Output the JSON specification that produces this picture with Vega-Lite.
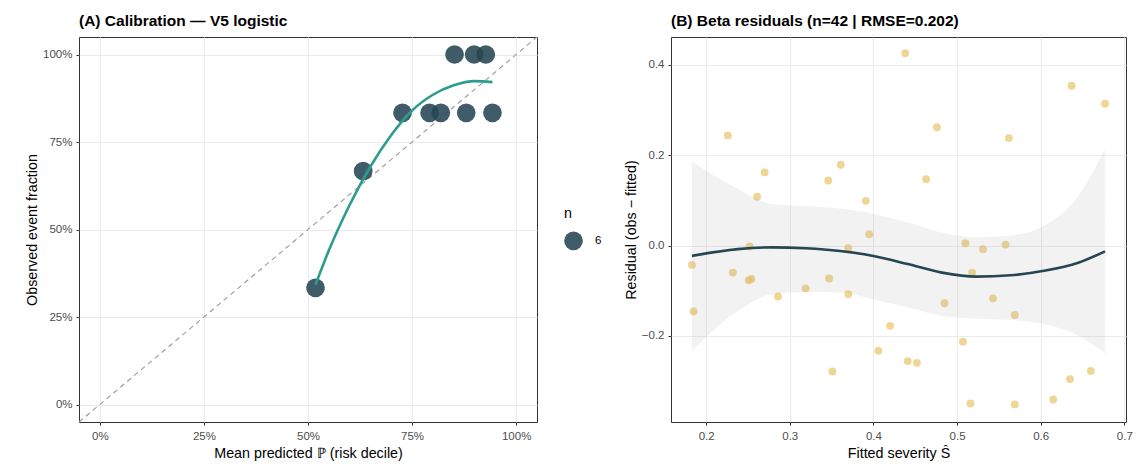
{
  "$schema": "https://vega.github.io/schema/vega-lite/v6.json",
  "background": "white",
  "padding": {"left": 25, "top": 13, "right": 0, "bottom": 0},
  "spacing": 85,
  "config": {
    "font": "Liberation Sans",
    "view": {"stroke": "#333333", "strokeWidth": 1},
    "axis": {
      "domain": false,
      "grid": true,
      "gridColor": "#ebebeb",
      "gridWidth": 1,
      "tickColor": "#333333",
      "tickSize": 3,
      "labelColor": "#4d4d4d",
      "labelFontSize": 11.5,
      "labelFont": "Liberation Sans",
      "titleFont": "Liberation Sans",
      "titleFontSize": 14.3,
      "titleFontWeight": "normal",
      "titleColor": "#000000"
    },
    "axisX": {"labelPadding": 5, "titlePadding": 5},
    "axisY": {"labelPadding": 4, "titlePadding": 3},
    "title": {"font": "Liberation Sans", "fontSize": 15.5, "fontWeight": "bold", "anchor": "start", "frame": "group", "offset": 8, "color": "#000000"}
  },
  "datasets": {
    "calib": [
      {"pred": 0.518, "obs": 0.3333, "n": 6},
      {"pred": 0.6325, "obs": 0.6667, "n": 6},
      {"pred": 0.727, "obs": 0.8333, "n": 6},
      {"pred": 0.792, "obs": 0.8333, "n": 6},
      {"pred": 0.819, "obs": 0.8333, "n": 6},
      {"pred": 0.880, "obs": 0.8333, "n": 6},
      {"pred": 0.943, "obs": 0.8333, "n": 6},
      {"pred": 0.852, "obs": 1.0, "n": 6},
      {"pred": 0.899, "obs": 1.0, "n": 6},
      {"pred": 0.927, "obs": 1.0, "n": 6}
    ],
    "calibSmooth": [
      {"pred": 0.518, "obs": 0.342},
      {"pred": 0.55, "obs": 0.44},
      {"pred": 0.60, "obs": 0.57},
      {"pred": 0.65, "obs": 0.68},
      {"pred": 0.70, "obs": 0.77},
      {"pred": 0.75, "obs": 0.84},
      {"pred": 0.80, "obs": 0.885},
      {"pred": 0.85, "obs": 0.912},
      {"pred": 0.90, "obs": 0.924},
      {"pred": 0.943, "obs": 0.921}
    ],
    "diag": [
      {"pred": -0.05, "obs": -0.05},
      {"pred": 1.05, "obs": 1.05}
    ],
    "resid": [
      {"fit": 0.183, "res": -0.043},
      {"fit": 0.185, "res": -0.146},
      {"fit": 0.226, "res": 0.244},
      {"fit": 0.232, "res": -0.060},
      {"fit": 0.251, "res": -0.077},
      {"fit": 0.254, "res": -0.074},
      {"fit": 0.252, "res": -0.002},
      {"fit": 0.261, "res": 0.108},
      {"fit": 0.270, "res": 0.162},
      {"fit": 0.286, "res": -0.113},
      {"fit": 0.319, "res": -0.095},
      {"fit": 0.346, "res": 0.144},
      {"fit": 0.347, "res": -0.073},
      {"fit": 0.351, "res": -0.279},
      {"fit": 0.361, "res": 0.179},
      {"fit": 0.370, "res": -0.006},
      {"fit": 0.370, "res": -0.108},
      {"fit": 0.391, "res": 0.099},
      {"fit": 0.395, "res": 0.025},
      {"fit": 0.406, "res": -0.233},
      {"fit": 0.420, "res": -0.178},
      {"fit": 0.438, "res": 0.426},
      {"fit": 0.441, "res": -0.256},
      {"fit": 0.452, "res": -0.260},
      {"fit": 0.463, "res": 0.147},
      {"fit": 0.476, "res": 0.262},
      {"fit": 0.485, "res": -0.128},
      {"fit": 0.507, "res": -0.213},
      {"fit": 0.510, "res": 0.005},
      {"fit": 0.516, "res": -0.350},
      {"fit": 0.518, "res": -0.060},
      {"fit": 0.531, "res": -0.008},
      {"fit": 0.543, "res": -0.117},
      {"fit": 0.558, "res": 0.002},
      {"fit": 0.562, "res": 0.238},
      {"fit": 0.569, "res": -0.154},
      {"fit": 0.569, "res": -0.352},
      {"fit": 0.615, "res": -0.341},
      {"fit": 0.635, "res": -0.296},
      {"fit": 0.637, "res": 0.354},
      {"fit": 0.660, "res": -0.278},
      {"fit": 0.677, "res": 0.314}
    ],
    "residSmooth": [
      {"fit": 0.183, "res": -0.023, "lo": -0.233, "hi": 0.186},
      {"fit": 0.238, "res": -0.008, "lo": -0.145, "hi": 0.125},
      {"fit": 0.279, "res": -0.004, "lo": -0.108, "hi": 0.092},
      {"fit": 0.319, "res": -0.006, "lo": -0.103, "hi": 0.087},
      {"fit": 0.360, "res": -0.012, "lo": -0.104, "hi": 0.082},
      {"fit": 0.400, "res": -0.023, "lo": -0.119, "hi": 0.070},
      {"fit": 0.441, "res": -0.041, "lo": -0.137, "hi": 0.051},
      {"fit": 0.482, "res": -0.060, "lo": -0.156, "hi": 0.029},
      {"fit": 0.523, "res": -0.069, "lo": -0.162, "hi": 0.018},
      {"fit": 0.564, "res": -0.066, "lo": -0.165, "hi": 0.022},
      {"fit": 0.604, "res": -0.056, "lo": -0.174, "hi": 0.044},
      {"fit": 0.645, "res": -0.038, "lo": -0.200, "hi": 0.110},
      {"fit": 0.677, "res": -0.013, "lo": -0.239, "hi": 0.214}
    ]
  },
  "hconcat": [
    {
      "width": 458,
      "height": 385,
      "title": {"text": "(A) Calibration — V5 logistic"},
      "layer": [
        {
          "data": {"name": "diag"},
          "mark": {"type": "line", "color": "#999999", "strokeDash": [5, 4], "strokeWidth": 1.1, "clip": true},
          "encoding": {
            "x": {"field": "pred", "type": "quantitative"},
            "y": {"field": "obs", "type": "quantitative"}
          }
        },
        {
          "data": {"name": "calib"},
          "mark": {"type": "circle", "color": "#264653", "opacity": 0.88},
          "encoding": {
            "x": {
              "field": "pred", "type": "quantitative",
              "scale": {"domain": [-0.05, 1.05], "nice": false, "zero": false},
              "axis": {"values": [0, 0.25, 0.5, 0.75, 1], "format": ".0%", "title": "Mean predicted ℙ (risk decile)"}
            },
            "y": {
              "field": "obs", "type": "quantitative",
              "scale": {"domain": [-0.05, 1.05], "nice": false, "zero": false},
              "axis": {"values": [0, 0.25, 0.5, 0.75, 1], "format": ".0%", "title": "Observed event fraction"}
            },
            "size": {
              "field": "n", "type": "quantitative",
              "scale": {"domain": [0, 6], "range": [0, 350], "zero": true},
              "legend": {
                "title": "n",
                "values": [6],
                "orient": "none",
                "legendX": 485,
                "legendY": 170,
                "titleFontSize": 14.3,
                "titleFontWeight": "normal",
                "titleColor": "#000000",
                "labelFontSize": 11.5,
                "labelColor": "#000000",
                "symbolFillColor": "#264653",
                "symbolStrokeColor": "#264653",
                "symbolStrokeWidth": 0,
                "symbolOpacity": 0.88,
                "symbolType": "circle",
                "titlePadding": 10,
                "labelOffset": 12
              }
            }
          }
        },
        {
          "data": {"name": "calibSmooth"},
          "mark": {"type": "line", "color": "#2a9d8f", "strokeWidth": 2.6, "interpolate": "monotone"},
          "encoding": {
            "x": {"field": "pred", "type": "quantitative"},
            "y": {"field": "obs", "type": "quantitative"}
          }
        }
      ]
    },
    {
      "width": 455,
      "height": 385,
      "title": {"text": "(B) Beta residuals (n=42 | RMSE=0.202)"},
      "layer": [
        {
          "data": {"name": "resid"},
          "mark": {"type": "circle", "color": "#e9c46a", "opacity": 0.7, "size": 62},
          "encoding": {
            "x": {
              "field": "fit", "type": "quantitative",
              "scale": {"domain": [0.158, 0.702], "nice": false, "zero": false},
              "axis": {"values": [0.2, 0.3, 0.4, 0.5, 0.6, 0.7], "format": ".1f", "title": "Fitted severity Ŝ"}
            },
            "y": {
              "field": "res", "type": "quantitative",
              "scale": {"domain": [-0.391, 0.462], "nice": false, "zero": false},
              "axis": {"values": [-0.2, 0, 0.2, 0.4], "format": ".1f", "title": "Residual (obs − fitted)"}
            }
          }
        },
        {
          "data": {"name": "residSmooth"},
          "mark": {"type": "area", "color": "#999999", "opacity": 0.13, "interpolate": "monotone"},
          "encoding": {
            "x": {"field": "fit", "type": "quantitative"},
            "y": {"field": "lo", "type": "quantitative"},
            "y2": {"field": "hi"}
          }
        },
        {
          "mark": {"type": "rule", "color": "#999999", "strokeDash": [6, 4], "strokeWidth": 1.2},
          "encoding": {"y": {"datum": 0}}
        },
        {
          "data": {"name": "residSmooth"},
          "mark": {"type": "line", "color": "#264653", "strokeWidth": 2.6, "interpolate": "monotone"},
          "encoding": {
            "x": {"field": "fit", "type": "quantitative"},
            "y": {"field": "res", "type": "quantitative"}
          }
        }
      ]
    }
  ]
}
